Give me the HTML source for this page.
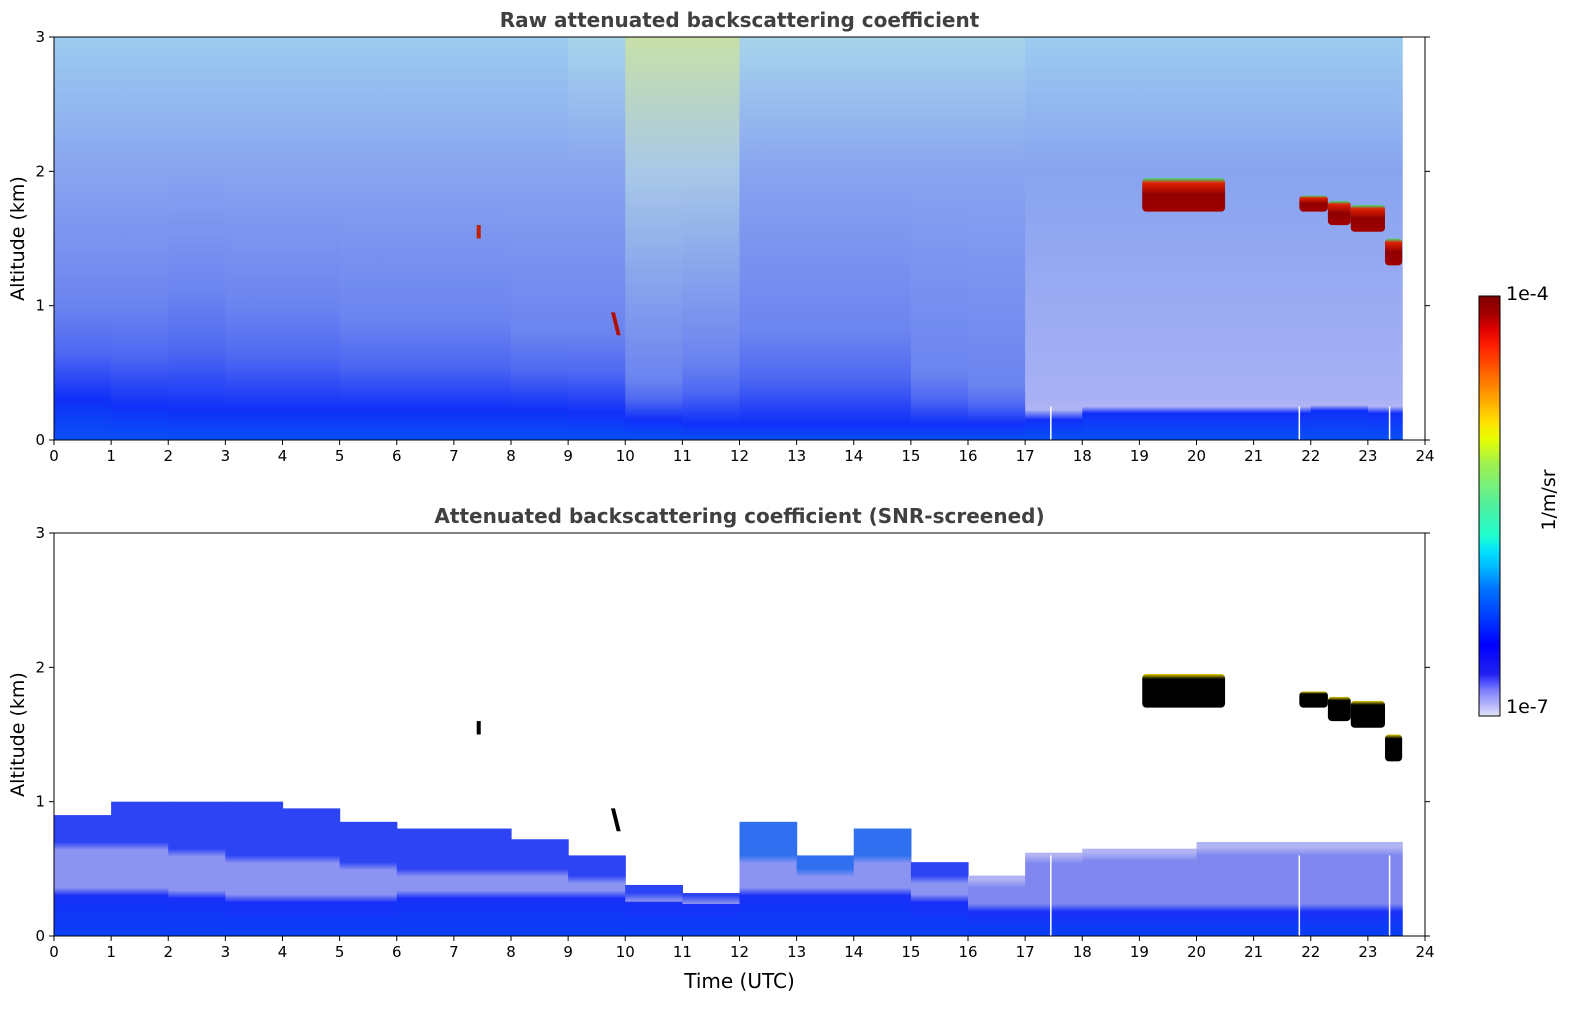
<!DOCTYPE html>
<html><head><meta charset="utf-8"><style>
body{margin:0;background:#fff;width:1595px;height:1020px;overflow:hidden;font-family:"Liberation Sans","DejaVu Sans",sans-serif}
</style></head><body>
<svg id="fig" width="1595" height="1020" xmlns="http://www.w3.org/2000/svg" style="font-family:'DejaVu Sans','Liberation Sans',sans-serif">
<defs id="defs">
<linearGradient id="cbar" x1="0" y1="1" x2="0" y2="0">
<stop offset="0" stop-color="#e4e4fa"/><stop offset="0.03" stop-color="#b0b0fa"/><stop offset="0.06" stop-color="#8080fa"/><stop offset="0.08" stop-color="#5050ff"/>
<stop offset="0.1" stop-color="#2020f0"/><stop offset="0.17" stop-color="#0000ff"/><stop offset="0.24" stop-color="#0040ff"/><stop offset="0.3" stop-color="#0070ff"/>
<stop offset="0.36" stop-color="#00c0ff"/><stop offset="0.39" stop-color="#00e0ff"/><stop offset="0.43" stop-color="#20ffd0"/><stop offset="0.5" stop-color="#50f0a0"/>
<stop offset="0.6" stop-color="#a0f050"/><stop offset="0.66" stop-color="#e8ff00"/><stop offset="0.7" stop-color="#ffe000"/><stop offset="0.76" stop-color="#ffa000"/>
<stop offset="0.82" stop-color="#ff6000"/><stop offset="0.88" stop-color="#ff2000"/><stop offset="0.92" stop-color="#e00000"/><stop offset="0.96" stop-color="#a00000"/><stop offset="1" stop-color="#800000"/></linearGradient>
<linearGradient id="cloudG" x1="0" y1="0" x2="0" y2="1"><stop offset="0" stop-color="#40e080"/><stop offset="0.15" stop-color="#e02000"/><stop offset="0.5" stop-color="#900000"/><stop offset="1" stop-color="#a00000"/></linearGradient>
<linearGradient id="cloudB" x1="0" y1="0" x2="0" y2="1"><stop offset="0" stop-color="#e0d000"/><stop offset="0.15" stop-color="#000"/><stop offset="1" stop-color="#000"/></linearGradient>
</defs>
<g id="plots"></g>
<g>
<rect x="1479" y="296" width="21" height="420" fill="url(#cbar)" stroke="#000" stroke-width="1"/>
<text x="1506" y="300" font-size="19">1e-4</text>
<text x="1506" y="713" font-size="19">1e-7</text>
<text transform="translate(1555,500) rotate(-90)" font-size="19" text-anchor="middle">1/m/sr</text>
</g>
</svg>
<script>
const hours=[0,1,2,3,4,5,6,7,8,9,10,11,12,13,14,15,16,17,18,19,20,21,22,23];
const topBL=[0.3,0.25,0.22,0.22,0.22,0.22,0.22,0.22,0.22,0.2,0.15,0.12,0.12,0.12,0.12,0.12,0.12,0.15,0.2,0.2,0.2,0.2,0.22,0.2];
const topDark=[1.0,1.0,1.1,1.0,1.0,0.9,0.9,0.9,0.8,0.8,0.45,0.6,0.8,0.8,0.8,0.5,0.4,0.3,0.3,0.3,0.3,0.3,0.3,0.3];
const topUpper=[0.2,0.2,0.2,0.2,0.2,0.25,0.3,0.3,0.3,0.4,0.8,0.8,0.5,0.4,0.4,0.5,0.4,0.25,0.25,0.25,0.2,0.2,0.2,0.2];
const btmTop=[0.9,1.0,1.0,1.0,0.95,0.85,0.8,0.8,0.72,0.6,0.38,0.32,0.85,0.6,0.8,0.55,0.45,0.62,0.65,0.65,0.7,0.7,0.7,0.7];
const btmBand=[0.7,0.7,0.65,0.6,0.6,0.55,0.5,0.5,0.5,0.45,0.32,0.3,0.6,0.5,0.6,0.45,0.42,0.6,0.62,0.62,0.66,0.66,0.66,0.66];
const btmCore=[0.3,0.3,0.28,0.25,0.25,0.25,0.28,0.28,0.28,0.28,0.25,0.25,0.3,0.3,0.3,0.25,0.18,0.18,0.18,0.18,0.18,0.18,0.18,0.18];
const cloudStart=[19.05,21.8,22.3,22.7,23.3];
const cloudEnd=[20.5,22.3,22.7,23.3,23.6];
const cloudBase=[1.7,1.7,1.6,1.55,1.3];
const cloudTopV=[1.95,1.82,1.78,1.75,1.5];
const gapTimes=[17.45,21.8,23.38];
const dataEnd=23.6;
const NS='http://www.w3.org/2000/svg';
const root=document.getElementById('plots');
const defs=document.getElementById('defs');
function mk(tag,attrs,parent){const e=document.createElementNS(NS,tag);for(const k in attrs)e.setAttribute(k,attrs[k]);(parent||root).appendChild(e);return e;}
let gid=0;
function grad(y1,y2,stops){
  const id='g'+(gid++);
  const lg=mk('linearGradient',{id:id,x1:0,x2:0,y1:y1,y2:y2,gradientUnits:'userSpaceOnUse'},defs);
  stops.forEach(s=>mk('stop',{offset:s[0],'stop-color':s[1]},lg));
  return 'url(#'+id+')';
}
function panel(y0,title,isTop,xlabel){
  const X0=54,X1=1425,Y0=y0,Y1=y0+403;
  const x=h=>X0+h*(X1-X0)/24, y=a=>Y1-a*(Y1-Y0)/3;
  const off=a=>Math.max(0,Math.min(1,(3-a)/3));
  const g=mk('g',{});
  
  
  const dg=mk('g',{},g);
  hours.forEach((h,i)=>{
    const w=Math.min(1,dataEnd-h);
    const xa=x(h),wa=x(h+w)-xa+0.6;
    if(isTop){
      const up=topUpper[i];
      const upc=up>0.6?'#c8e0a8':up>0.35?'#a8d4ec':'#9cccf0';
      const midc=up>0.6?'#a8c8e8':'#88a4f0';
      const dk=h>=17?'#b0b4f4':'#4e68f2';
      const fill=grad(Y0,Y1,[[0,upc],[off(2),midc],[off(topDark[i]),h>=17?'#a8b0f4':'#6c84f0'],[off(topDark[i]*0.5+topBL[i]*0.5),dk],[off(topBL[i]),'#1030f8'],[1,'#0850f8']]);
      const r=mk('rect',{x:xa,y:Y0,width:wa,height:Y1-Y0,fill:fill},dg);
      
    }else{
      const dark=(h>=12&&h<15)?'#3070f0':(h>=16?'#b0b4f2':'#2c44f4');
      const band=h>=16?'#8088f0':'#8c94f2';
      const fill=grad(Y0,Y1,[[off(btmTop[i]),dark],[off(btmBand[i]),dark],[off(btmBand[i]-0.06),band],[off(btmCore[i]+0.06),band],[off(btmCore[i]),'#1830f8'],[1,'#0840f8']]);
      const r=mk('rect',{x:xa,y:y(btmTop[i]),width:wa,height:Y1-y(btmTop[i]),fill:fill},dg);
      
    }
  });
  cloudStart.forEach((s,i)=>{
    const c=mk('rect',{x:x(s),y:y(cloudTopV[i]),width:x(cloudEnd[i])-x(s),height:y(cloudBase[i])-y(cloudTopV[i]),fill:isTop?'url(#cloudG)':'url(#cloudB)',rx:4},dg);
    
  });
  gapTimes.forEach(t=>{
    const l=mk('line',{x1:x(t),x2:x(t),y1:y(isTop?0.25:0.6),y2:Y1,stroke:'#fff','stroke-width':1.5},dg);
    
  });
  const s1=mk('rect',{x:x(7.4),y:y(1.6),width:4,height:y(1.5)-y(1.6),fill:isTop?'#c02000':'#000'},dg);
  
  const s2=mk('polygon',{points:`${x(9.75)},${y(0.95)} ${x(9.82)},${y(0.95)} ${x(9.92)},${y(0.78)} ${x(9.85)},${y(0.78)}`,fill:isTop?'#b01000':'#000'},dg);
  
  const fr=mk('rect',{x:X0,y:Y0,width:X1-X0,height:Y1-Y0,fill:'none',stroke:'#000','stroke-width':1},g);
  
  for(let h=0;h<=24;h++){
    mk('line',{x1:x(h),x2:x(h),y1:Y1,y2:Y1+5,stroke:'#000'},g);
    const t=mk('text',{x:x(h),y:Y1+21,'font-size':15,'text-anchor':'middle'},g);t.textContent=h;
    
  }
  for(let a=0;a<=3;a++){
    mk('line',{x1:X0-5,x2:X0,y1:y(a),y2:y(a),stroke:'#000'},g);
    mk('line',{x1:X1,x2:X1+5,y1:y(a),y2:y(a),stroke:'#000'},g);
    const t=mk('text',{x:X0-9,y:y(a)+5,'font-size':15,'text-anchor':'end'},g);t.textContent=a;
    
  }
  const tt=mk('text',{x:(X0+X1)/2,y:Y0-10,'font-size':20,'font-weight':'bold',fill:'#404040','text-anchor':'middle'},g);tt.textContent=title;
  
  const yl=mk('text',{transform:`translate(${X0-30},${(Y0+Y1)/2}) rotate(-90)`,'font-size':19,'text-anchor':'middle'},g);yl.textContent='Altitude (km)';
  
  if(xlabel){const xl=mk('text',{x:(X0+X1)/2,y:Y1+52,'font-size':20,'text-anchor':'middle'},g);xl.textContent=xlabel;
  }
}
panel(37,'Raw attenuated backscattering coefficient',true,null);
panel(533,'Attenuated backscattering coefficient (SNR-screened)',false,'Time (UTC)');
</script>
</body></html>
